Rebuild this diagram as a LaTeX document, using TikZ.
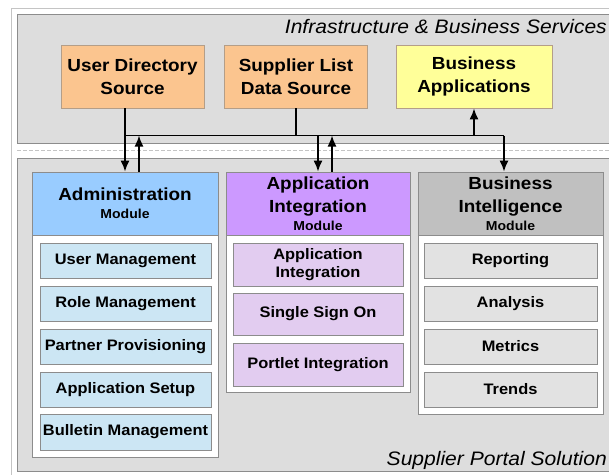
\documentclass[tikz,border=0pt]{standalone}
\usepackage{fontspec}
\setmainfont{Liberation Sans}[FakeStretch=1.08]
\usetikzlibrary{arrows.meta}

\definecolor{panelgray}{HTML}{DDDDDD}
\definecolor{edgegray}{HTML}{8C8C8C}
\definecolor{framegray}{HTML}{C4C4C4}
\definecolor{srcorange}{HTML}{FBC58F}
\definecolor{srcedge}{HTML}{B49E88}
\definecolor{appyellow}{HTML}{FFFF99}
\definecolor{adminblue}{HTML}{99CCFF}
\definecolor{adminitem}{HTML}{CCE6F4}
\definecolor{intviolet}{HTML}{CC99FF}
\definecolor{intitem}{HTML}{E2CCF0}
\definecolor{bihead}{HTML}{C0C0C0}
\definecolor{biitem}{HTML}{E2E2E2}

\newcommand\modtext{\fontsize{13}{15}\selectfont}

\begin{document}
\begin{tikzpicture}[x=1pt,y=-1pt,>={Latex[length=11pt,width=9pt]},
    panel/.style={draw=edgegray,fill=panelgray,line width=0.8pt},
    wall/.style={draw=edgegray,fill=white,line width=0.8pt},
    zone/.style={font=\itshape\fontsize{19.5}{23}\selectfont,inner sep=0pt},
    src/.style={draw=srcedge,fill=srcorange,line width=0.8pt,minimum width=143pt,minimum height=63pt,
        align=center,inner sep=0pt,font=\bfseries\fontsize{17.5}{23}\selectfont},
    head/.style={draw=edgegray,line width=0.8pt,minimum width=186pt,minimum height=63pt,
        align=center,inner sep=0pt,font=\bfseries\fontsize{17.5}{23}\selectfont},
    item/.style={draw=edgegray,line width=0.8pt,minimum width=171pt,minimum height=35pt,
        align=center,inner sep=0pt,font=\bfseries\fontsize{15.2}{18}\selectfont},
    wire/.style={line width=1.6pt}]
    \useasboundingbox (0,0) rectangle (609,474);
    \fill[white] (0,0) rectangle (609,474);
    \draw[framegray,line width=0.8pt] (11,8) rectangle (640,490);
    \draw[panel] (17,14) rectangle (640,143);
    \draw[panel] (17,158) rectangle (640,471);
    \draw[framegray,line width=1pt,dash pattern=on 4pt off 2pt] (17,150.5) -- (609,150.5);

    \node[zone,anchor=base east] (infra) at (607,33) {Infrastructure \& Business Services};
    \node[zone,anchor=base east] (portal) at (607,465) {Supplier Portal Solution};

    \node[src] (udir) at (132.5,76.5) {User Directory\\Source};
    \node[src] (slist) at (296,76.5) {Supplier List\\Data Source};
    \node[src,fill=appyellow,minimum width=156pt] (bapp) at (474,76.5) {Business\\Applications};

    \draw[wall] (32,235) rectangle (218,457);
    \draw[wall] (226,235) rectangle (410,392);
    \draw[wall] (418,235) rectangle (603,414);

    \node[head,fill=adminblue] (admin) at (125,203.5) {Administration\\[-5pt]{\modtext Module}};
    \node[head,fill=intviolet,minimum width=184pt] (appint) at (318,203.5) {Application\\Integration\\[-5pt]{\modtext Module}};
    \node[head,fill=bihead,minimum width=185pt] (bi) at (510.5,203.5) {Business\\Intelligence\\[-5pt]{\modtext Module}};

    \node[item,fill=adminitem] (usermgmt) at (125.5,260.5) {User Management};
    \node[item,fill=adminitem] (rolemgmt) at (125.5,303.5) {Role Management};
    \node[item,fill=adminitem] (partner) at (125.5,346.5) {Partner Provisioning};
    \node[item,fill=adminitem] (appsetup) at (125.5,389.5) {Application Setup};
    \node[item,fill=adminitem,minimum height=36pt] (bulletin) at (125.5,432) {Bulletin Management};

    \node[item,fill=intitem,minimum width=170pt,minimum height=43pt] (appintitem) at (318,264.5) {Application\\Integration};
    \node[item,fill=intitem,minimum width=170pt,minimum height=42pt] (sso) at (318,314) {Single Sign On};
    \node[item,fill=intitem,minimum width=170pt,minimum height=43pt] (portlet) at (318,364.5) {Portlet Integration};

    \node[item,fill=biitem,minimum width=173pt] (reporting) at (510.5,260.5) {Reporting};
    \node[item,fill=biitem,minimum width=173pt] (analysis) at (510.5,303.5) {Analysis};
    \node[item,fill=biitem,minimum width=173pt] (metrics) at (510.5,346.5) {Metrics};
    \node[item,fill=biitem,minimum width=173pt] (trends) at (510.5,389.5) {Trends};

    \coordinate (bus) at (0,135.5);
    \coordinate (adminup) at ([xshift=14pt]admin.north);
    \coordinate (appintup) at ([xshift=14pt]appint.north);
    \coordinate (biin) at ([xshift=-6.5pt]bi.north);

    \draw[wire] (slist.south) -- (slist.south |- bus);
    \draw[wire] (admin.north |- bus) -- (biin |- bus);
    \draw[wire,->] (admin.north |- udir.south) -- (admin.north);
    \draw[wire,->] (adminup) -- (adminup |- bus);
    \draw[wire,->] (appint.north |- bus) -- (appint.north);
    \draw[wire,->] (appintup) -- (appintup |- bus);
    \draw[wire,->] (biin |- bus) -- (biin);
    \draw[wire,->] (bapp.south |- bus) -- (bapp.south);
\end{tikzpicture}
\end{document}
